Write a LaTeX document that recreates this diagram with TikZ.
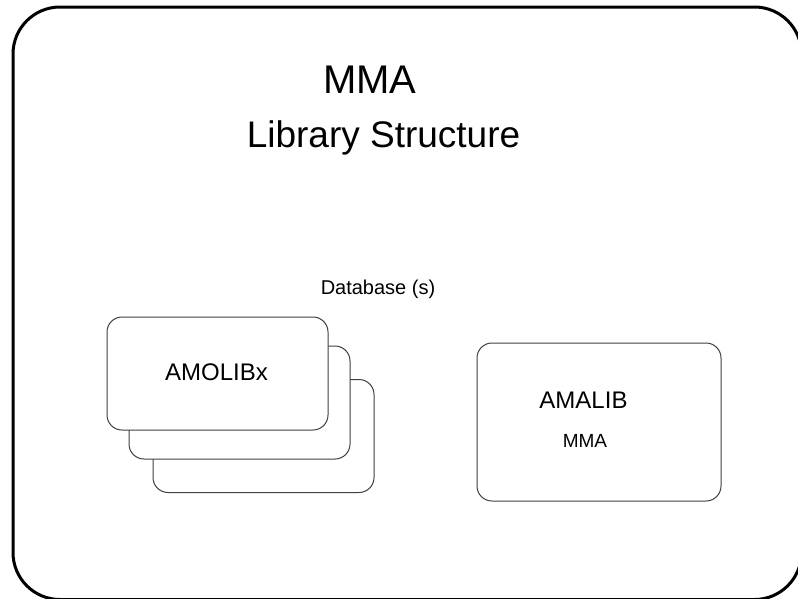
\documentclass[tikz,border=0pt]{standalone}
\usepackage{fontspec}
\setmainfont{Liberation Sans}
\begin{document}
\begin{tikzpicture}[x=1pt,y=-1pt,
  libbox/.style={draw=black!75,line width=1pt,fill=white,rounded corners=15pt,
    minimum width=221pt,minimum height=113pt,inner sep=0pt,outer sep=0pt},
  txt/.style={inner sep=0pt,anchor=base,text=black}]
\useasboundingbox (0,0) rectangle (798,598);
\begin{scope}
\clip (0,0) rectangle (798,598);
\draw[line width=3pt,rounded corners=47pt] (13,7) rectangle (801.5,599.5);
\end{scope}
\node[txt,font=\fontsize{40}{44}\selectfont] (title) at (370,93) {MMA};
\node[txt,font=\fontsize{37}{42}\selectfont] (subtitle) at (383.5,147) {Library Structure};
\node[txt,font=\fontsize{20}{24}\selectfont] (db) at (378,294) {Database (s)};
\node[libbox] (b3) at (263.5,436) {};
\node[libbox] (b2) at (239.5,402.5) {};
\node[libbox] (b1) at (217.5,373.5) {};
\node[txt,font=\fontsize{24}{28}\selectfont] (amolib) at (216.5,380) {AMOLIBx};
\node[libbox,minimum width=244pt,minimum height=158pt] (amalibbox) at (599,422) {};
\node[txt,font=\fontsize{24}{28}\selectfont] (amalib) at (583.5,408) {AMALIB};
\node[txt,font=\fontsize{19}{22}\selectfont] (mma) at (585,447) {MMA};
\end{tikzpicture}
\end{document}
